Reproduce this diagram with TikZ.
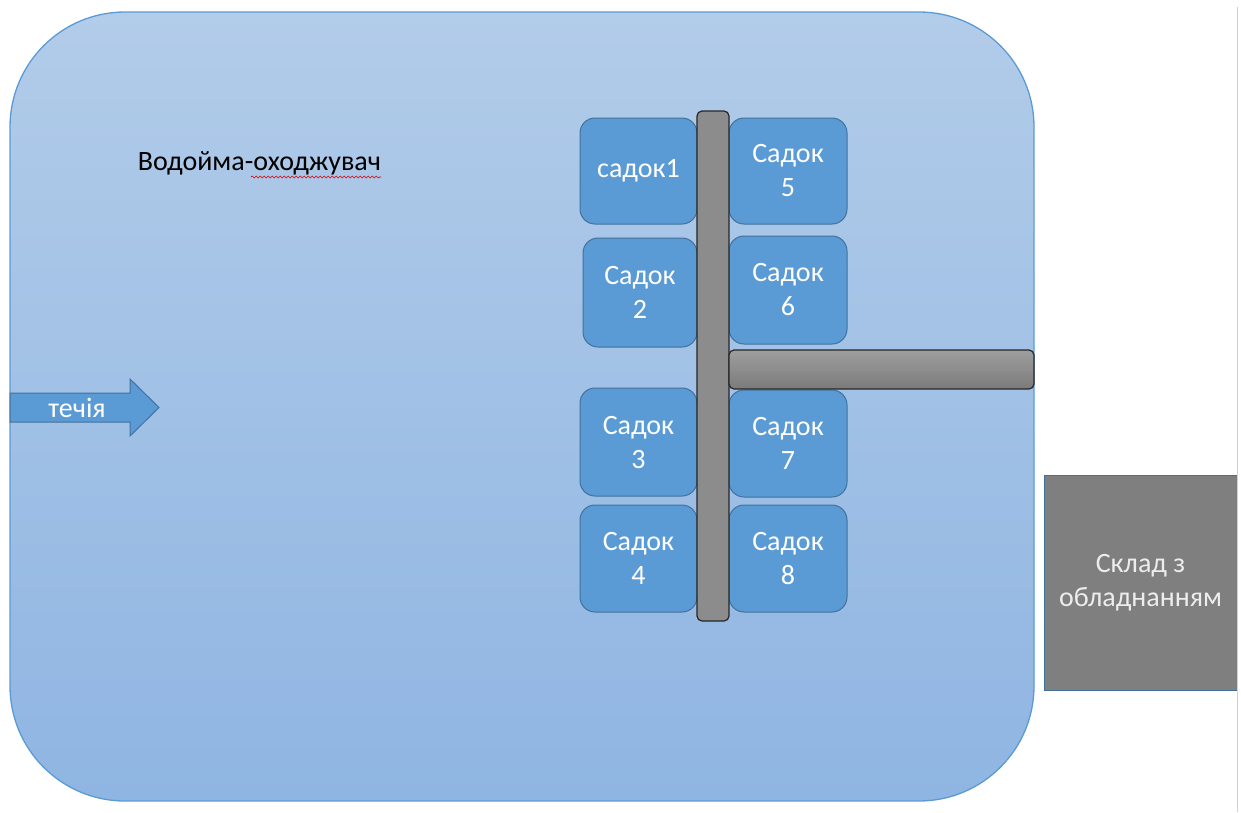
\documentclass[tikz,border=0pt]{standalone}
\usepackage{fontspec}
\setmainfont{Carlito}
\usetikzlibrary{decorations.pathmorphing}
\definecolor{pondtop}{HTML}{B2CCE9}
\definecolor{pondbottom}{HTML}{8FB5E2}
\definecolor{pondline}{HTML}{5B9BD5}
\definecolor{cagefill}{HTML}{5B9BD5}
\definecolor{cageline}{HTML}{41719C}
\definecolor{barfill}{HTML}{8C8C8C}
\definecolor{barline}{HTML}{262626}
\definecolor{storefill}{HTML}{7F7F7F}
\newcommand{\cagefont}{\fontsize{28}{34}\selectfont}
\tikzset{
  cage/.style={draw=cageline, line width=1pt, fill=cagefill, rounded corners=15pt,
    text=white, align=center, font=\cagefont, inner sep=0pt},
  bar/.style={draw=barline, line width=1.2pt, rounded corners=5pt},
}

\begin{document}
\begin{tikzpicture}[x=1pt,y=-1pt]
  \useasboundingbox (0,0) rectangle (1241,812);
  % pond
  \shade[rounded corners=115pt, top color=pondtop, bottom color=pondbottom]
    (10,12) rectangle (1034,801);
  \draw[pondline, line width=1.3pt, rounded corners=115pt] (10,12) rectangle (1034,801);
  \node[font=\cagefont, text=black] (pond) at (259.5,163) {Водойма-оходжувач};
  \draw[red!85!black, line width=0.6pt, decorate,
    decoration={snake, amplitude=1pt, segment length=4pt}] (251,177) -- (381,177);
  % flow arrow
  \draw[draw=cageline, line width=1pt, fill=cagefill]
    (10,393) -- (130,393) -- (130,379) -- (159,407.5) -- (130,436) -- (130,422) -- (10,422) -- cycle;
  \node[font=\cagefont, text=white] (flow) at (77,408) {течія};
  % cages
  \node[cage, minimum width=117pt, minimum height=106pt] (c1) at (638.5,171) {садок1};
  \node[cage, minimum width=114pt, minimum height=109pt] (c2) at (640,292.5) {Садок\\2};
  \node[cage, minimum width=117pt, minimum height=108pt] (c3) at (638.5,442) {Садок\\3};
  \node[cage, minimum width=117pt, minimum height=107pt] (c4) at (638.5,558.5) {Садок\\4};
  \node[cage, minimum width=118pt, minimum height=106pt] (c5) at (788,171) {Садок\\5};
  \node[cage, minimum width=118pt, minimum height=108pt] (c6) at (788,290) {Садок\\6};
  \node[cage, minimum width=118pt, minimum height=107pt] (c7) at (788,443.5) {Садок\\7};
  \node[cage, minimum width=118pt, minimum height=107pt] (c8) at (788,558.5) {Садок\\8};
  % pier
  \draw[bar, fill=barfill] (697,111) rectangle (729,621);
  \draw[bar, top color=black!38, bottom color=black!52] (729,350) rectangle (1034,389);
  % store
  \node[draw=cageline, line width=1pt, fill=storefill, text=black!7, align=center,
    font=\cagefont, minimum width=193pt, minimum height=215pt, inner sep=0pt] (store)
    at (1140.5,582.5) {Склад з\\обладнанням};
  \draw[black!18, line width=1.5pt] (1237.5,7) -- (1237.5,812);
\end{tikzpicture}
\end{document}
